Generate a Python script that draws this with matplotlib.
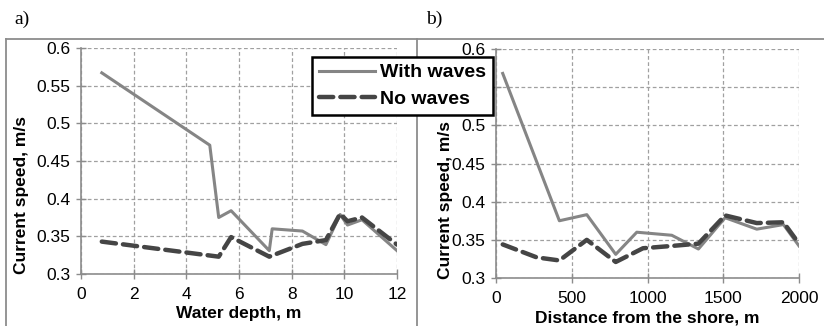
"""
Plot current speed with and without waves vs water depth and distance from shore
"""

#---------------------------------------------------------------------------------------------------
# Import Modules
#---------------------------------------------------------------------------------------------------

import matplotlib.pyplot as plt
from matplotlib.lines import Line2D


#---------------------------------------------------------------------------------------------------
# Input Parameters
#---------------------------------------------------------------------------------------------------

# Panel a) water depth (m) and current speed (m/s)
depth_with = [0.79, 4.89, 5.23, 5.70, 7.15, 7.26, 8.41, 9.30, 9.84, 10.12, 10.67, 12.0]
speed_depth_with = [0.567, 0.471, 0.375, 0.384, 0.331, 0.360, 0.357, 0.339, 0.379, 0.365, 0.372, 0.331]
depth_no = [0.79, 5.23, 5.70, 7.15, 8.41, 9.30, 9.84, 10.12, 10.67, 12.0]
speed_depth_no = [0.343, 0.323, 0.349, 0.323, 0.340, 0.345, 0.380, 0.370, 0.375, 0.339]

# Panel b) distance from the shore (m) and current speed (m/s)
dist_with = [44, 418, 599, 790, 929, 1160, 1336, 1512, 1721, 1897, 2000]
speed_dist_with = [0.568, 0.375, 0.383, 0.331, 0.360, 0.356, 0.338, 0.379, 0.364, 0.370, 0.342]
dist_no = [44, 269, 418, 599, 790, 970, 1160, 1336, 1512, 1721, 1897, 2000]
speed_dist_no = [0.344, 0.327, 0.323, 0.350, 0.321, 0.339, 0.342, 0.345, 0.382, 0.372, 0.373, 0.345]

labels = ['With waves', 'No waves']
yticks = [0.3, 0.35, 0.4, 0.45, 0.5, 0.55, 0.6]
ytick_labels = ['0.3', '0.35', '0.4', '0.45', '0.5', '0.55', '0.6']

save_fname = 'out.png'


#---------------------------------------------------------------------------------------------------
# Create Plots
#---------------------------------------------------------------------------------------------------

frame_c = '#8c8c8c'
with_kw = {'c': '#858585', 'lw': 2.2, 'solid_joinstyle': 'round'}
no_kw = {'c': '#454545', 'lw': 3.2, 'ls': (0, (3.2, 1.6)), 'dash_capstyle': 'round'}


def style_axis(ax, xlim, xticks, xlabel, ylab_xy):
    """
    Excel-like axis styling
    """

    ax.set_xlim(xlim)
    ax.set_ylim([0.3, 0.6])
    ax.set_xticks(xticks)
    ax.set_yticks(yticks)
    ax.set_yticklabels(ytick_labels)
    ax.grid(True, color='#a0a0a0', lw=0.9, ls=(0, (3, 2)))
    ax.set_axisbelow(True)
    for s in ['top', 'right']:
        ax.spines[s].set_visible(False)
    for s in ['left', 'bottom']:
        ax.spines[s].set_color(frame_c)
        ax.spines[s].set_linewidth(1.2)
    ax.tick_params(direction='inout', length=7, width=1.0, color=frame_c, labelsize=12.5)
    ax.tick_params(axis='x', pad=6)
    ax.tick_params(axis='y', pad=4)
    ax.set_xlabel(xlabel, fontsize=12.5, fontweight='bold', labelpad=3)
    ax.set_ylabel('Current speed, m/s', fontsize=12.5, fontweight='bold', va='center')
    # Excel puts the axis title a bit below the plot-area middle
    ax.yaxis.set_label_coords(*ylab_xy)
    return ax


if __name__ == '__main__':

    plt.rcParams['font.family'] = ['Liberation Sans', 'DejaVu Sans']
    fig = plt.figure(figsize=(8.24, 3.26), dpi=100)

    ax1 = fig.add_axes([0.0983, 0.1595, 0.3835, 0.6933])
    ax1.plot(depth_with, speed_depth_with, **with_kw)
    ax1.plot(depth_no, speed_depth_no, **no_kw)
    style_axis(ax1, [0, 12], range(0, 13, 2), 'Water depth, m', (-0.187, 0.35))

    ax2 = fig.add_axes([0.602, 0.1472, 0.3677, 0.7025])
    ax2.plot(dist_with, speed_dist_with, **with_kw)
    ax2.plot(dist_no, speed_dist_no, **no_kw)
    style_axis(ax2, [0, 2000], range(0, 2001, 500), 'Distance from the shore, m', (-0.168, 0.34))

    # Chart area borders
    W, H = 824, 326
    fig.add_artist(Line2D([6/W, 6/W], [0, 1 - 39/H], color=frame_c, lw=1.3))
    fig.add_artist(Line2D([417/W, 417/W], [0, 1 - 39/H], color=frame_c, lw=1.3))
    fig.add_artist(Line2D([6/W, 1], [1 - 39/H, 1 - 39/H], color=frame_c, lw=1.3))

    # Panel labels
    fig.text(14/W, 1 - 19/H, 'a)', family=['Liberation Serif', 'DejaVu Serif'], fontsize=14, va='center')
    fig.text(426/W, 1 - 19/H, 'b)', family=['Liberation Serif', 'DejaVu Serif'], fontsize=14, va='center')

    # Shared legend across both panels
    handles = [Line2D([], [], **with_kw), Line2D([], [], **no_kw)]
    leg = fig.legend(handles, labels, loc='upper left', bbox_to_anchor=(312/W, 1 - 57/H),
                     frameon=True, fancybox=False, framealpha=1, handlelength=2.9,
                     handletextpad=0.25, borderpad=0.35, labelspacing=0.45, borderaxespad=0,
                     prop={'weight': 'bold', 'size': 14})
    leg.get_frame().set_edgecolor('black')
    leg.get_frame().set_linewidth(1.8)
    leg.set_zorder(10)

    plt.savefig(save_fname, dpi=100)


"""
End plot.py
"""
